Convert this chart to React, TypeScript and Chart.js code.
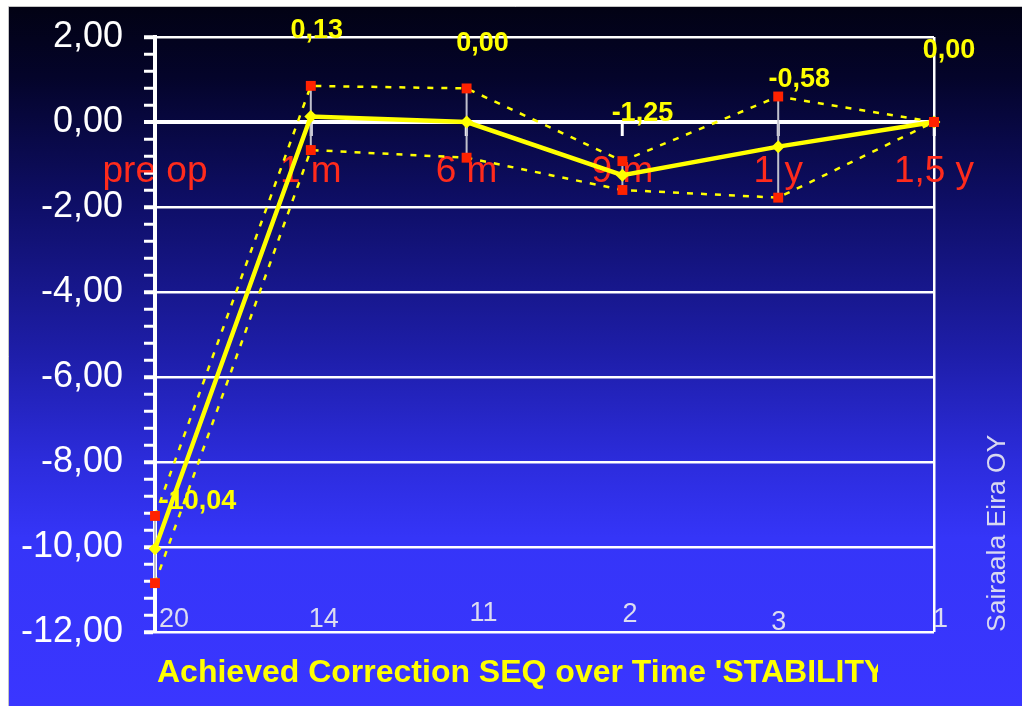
import React, { useEffect, useRef } from 'react';
import { Chart, registerables } from 'chart.js';

Chart.register(...registerables);

// ---- data ----
const categories = ['pre op', '1 m', '6 m', '9 m', '1 y', '1,5 y'];
const meanValues = [-10.04, 0.13, 0.0, -1.25, -0.58, 0.0];
const upperValues = [-9.27, 0.85, 0.79, -0.92, 0.6, 0.0];
const lowerValues = [-10.85, -0.66, -0.84, -1.6, -1.78, 0.0];
const counts = [20, 14, 11, 2, 3, 1];
const yMin = -12;
const yMax = 2;
const yMinorStep = 0.4;
const yMajorStep = 2;
const titleText = "Achieved Correction SEQ over Time 'STABILITY";
const creditText = 'Sairaala Eira OY';

// ---- layout (pixel offsets for annotation text) ----
const valueLabelOffsets = [[43, -47], [6, -86], [16, -78], [20, -62], [21, -67], [15, -71]];
const countLabelOffsets = [[4, -5], [-2, -5], [3, -11], [0, -10], [-7, -2], [-1, -5]];

const FONT = "'Liberation Sans', Arial, sans-serif";
const YELLOW = '#ffff00';
const RED = '#ff2200';

const fmt = (v: number) => {
  const s = Math.abs(v) < 1e-9 ? '0.00' : v.toFixed(2);
  return s.replace('.', ',');
};
const isMajor = (v: number) => Math.abs(v / yMajorStep - Math.round(v / yMajorStep)) < 1e-6;

export default function App() {
  const ref = useRef<HTMLCanvasElement>(null);

  useEffect(() => {
    const canvas = ref.current!;

    const bgPlugin = {
      id: 'bgPlugin',
      beforeDraw(chart: any) {
        const { ctx, width, height } = chart;
        ctx.save();
        ctx.fillStyle = '#ffffff';
        ctx.fillRect(0, 0, width, height);
        const g = ctx.createLinearGradient(0, 7, 0, height);
        g.addColorStop(0, '#020214');
        g.addColorStop(0.1, '#04042a');
        g.addColorStop(0.28, '#0e0e66');
        g.addColorStop(0.5, '#1e1eaa');
        g.addColorStop(0.65, '#2c2cdc');
        g.addColorStop(0.76, '#3535f8');
        g.addColorStop(1, '#3a36ff');
        ctx.fillStyle = g;
        ctx.fillRect(9, 7, width - 9, height - 7);
        ctx.strokeStyle = '#c4c4c4';
        ctx.lineWidth = 1;
        ctx.beginPath();
        ctx.moveTo(8.5, height);
        ctx.lineTo(8.5, 6.5);
        ctx.lineTo(width, 6.5);
        ctx.stroke();
        ctx.restore();
      },
    };

    const errorBarPlugin = {
      id: 'errorBarPlugin',
      beforeDatasetsDraw(chart: any) {
        const { ctx } = chart;
        const xs = chart.scales.x;
        const ys = chart.scales.y;
        ctx.save();
        ctx.strokeStyle = '#c0c0cc';
        ctx.lineWidth = 2;
        categories.forEach((_, i) => {
          const x = xs.getPixelForValue(i);
          ctx.beginPath();
          ctx.moveTo(x, ys.getPixelForValue(upperValues[i]));
          ctx.lineTo(x, ys.getPixelForValue(lowerValues[i]));
          ctx.stroke();
        });
        ctx.restore();
      },
    };

    const annotationPlugin = {
      id: 'annotationPlugin',
      afterDraw(chart: any) {
        const { ctx, chartArea } = chart;
        const xs = chart.scales.x;
        const ys = chart.scales.y;
        ctx.save();
        // value labels
        ctx.fillStyle = YELLOW;
        ctx.font = `bold 27px ${FONT}`;
        ctx.textAlign = 'center';
        ctx.textBaseline = 'middle';
        meanValues.forEach((v, i) => {
          const x = xs.getPixelForValue(i) + valueLabelOffsets[i][0];
          const y = ys.getPixelForValue(v) + valueLabelOffsets[i][1];
          ctx.fillText(fmt(v), x, y);
        });
        // counts
        ctx.fillStyle = '#dcdcf0';
        ctx.font = `27px ${FONT}`;
        ctx.textAlign = 'left';
        ctx.textBaseline = 'alphabetic';
        counts.forEach((c, i) => {
          const x = xs.getPixelForValue(i) + countLabelOffsets[i][0];
          const y = chartArea.bottom + countLabelOffsets[i][1];
          ctx.fillText(String(c), x, y);
        });
        // title (clipped like the original)
        ctx.save();
        ctx.beginPath();
        ctx.rect(0, chartArea.bottom + 8, 878, 80);
        ctx.clip();
        ctx.fillStyle = YELLOW;
        ctx.font = `bold 32px ${FONT}`;
        ctx.textAlign = 'left';
        ctx.fillText(titleText, chartArea.left + 2, chartArea.bottom + 50);
        ctx.restore();
        // vertical credit
        ctx.save();
        ctx.translate(1005, chartArea.bottom);
        ctx.rotate(-Math.PI / 2);
        ctx.fillStyle = '#d8d8f0';
        ctx.font = `26.5px ${FONT}`;
        ctx.textAlign = 'left';
        ctx.textBaseline = 'alphabetic';
        ctx.fillText(creditText, 0, 0);
        ctx.restore();
        ctx.restore();
      },
    };

    const chart = new Chart(canvas, {
      type: 'line',
      data: {
        labels: categories,
        datasets: [
          {
            label: 'upper',
            data: upperValues,
            borderColor: YELLOW,
            borderWidth: 2.5,
            borderDash: [6, 8],
            pointStyle: 'rect',
            pointRadius: 7,
            pointBackgroundColor: RED,
            pointBorderWidth: 0,
            tension: 0,
          },
          {
            label: 'lower',
            data: lowerValues,
            borderColor: YELLOW,
            borderWidth: 2.5,
            borderDash: [6, 8],
            pointStyle: 'rect',
            pointRadius: 7,
            pointBackgroundColor: RED,
            pointBorderWidth: 0,
            tension: 0,
          },
          {
            label: 'mean',
            data: meanValues,
            borderColor: YELLOW,
            borderWidth: 4.5,
            pointStyle: 'rectRot',
            pointRadius: 6.5,
            pointBackgroundColor: YELLOW,
            pointBorderColor: YELLOW,
            pointBorderWidth: 0,
            tension: 0,
          },
        ],
      },
      options: {
        responsive: false,
        animation: false,
        devicePixelRatio: 1,
        layout: { padding: { left: 0, top: 37, right: 88, bottom: 74 } },
        plugins: {
          legend: { display: false },
          title: { display: false },
          tooltip: { enabled: false },
        },
        scales: {
          x: {
            type: 'category',
            position: { y: 0 } as any,
            offset: false,
            afterFit: (s: any) => {
              s.height = 0;
            },
            grid: {
              display: true,
              drawOnChartArea: true,
              color: (c: any) => (c.index === categories.length - 1 ? '#ffffff' : 'rgba(0,0,0,0)'),
              lineWidth: 2.5,
              drawTicks: true,
              tickLength: 12,
              tickColor: '#ffffff',
              tickWidth: 3,
            },
            border: { display: true, color: '#ffffff', width: 4 },
            ticks: {
              color: '#ff2b1c',
              font: { family: FONT, size: 37 },
              padding: 16,
              maxRotation: 0,
              autoSkip: false,
            },
          },
          y: {
            type: 'linear',
            min: yMin,
            max: yMax,
            afterFit: (s: any) => {
              s.width = 155;
              s.paddingTop = 0;
              s.paddingBottom = 0;
            },
            grid: {
              display: true,
              drawOnChartArea: true,
              color: (c: any) => (c.tick && isMajor(c.tick.value) ? '#ffffff' : 'rgba(0,0,0,0)'),
              lineWidth: (c: any) =>
                c.tick && Math.abs(c.tick.value) < 1e-6 ? 4 : 2.5,
              drawTicks: true,
              tickLength: 11,
              tickColor: '#ffffff',
              tickWidth: (c: any) => (c.tick && isMajor(c.tick.value) ? 4 : 3),
            },
            border: { display: true, color: '#ffffff', width: 4 },
            ticks: {
              stepSize: yMinorStep,
              autoSkip: false,
              color: '#ffffff',
              font: { family: FONT, size: 36 },
              padding: 21,
              callback: (v: any) => (isMajor(Number(v)) ? fmt(Number(v)) : ''),
            },
          },
        },
      },
      plugins: [bgPlugin, errorBarPlugin, annotationPlugin],
    });

    return () => chart.destroy();
  }, []);

  return (
    <div style={{ position: 'fixed', left: 0, top: 0, width: 1022, height: 706 }}>
      <canvas ref={ref} width={1022} height={706} style={{ display: 'block' }} />
    </div>
  );
}
